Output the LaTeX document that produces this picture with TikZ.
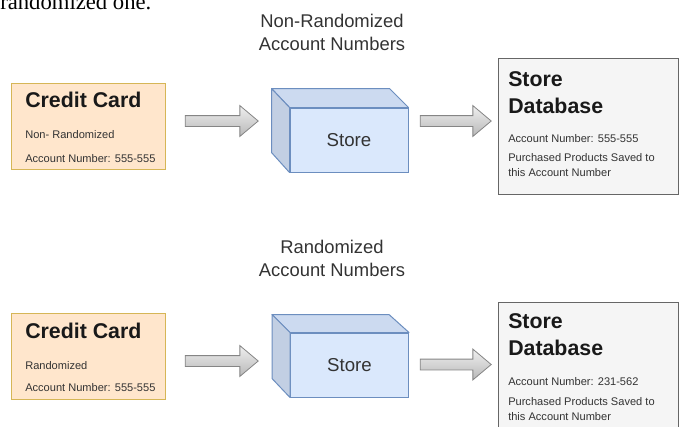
\documentclass[tikz,border=0pt]{standalone}
\usepackage{fontspec}
\setmainfont{Liberation Sans}
\newfontfamily\cutserif{Liberation Serif}
\usetikzlibrary{shapes.arrows,calc,positioning}
\definecolor{cardfill}{HTML}{FFE6CC}
\definecolor{carddraw}{HTML}{D6B656}
\definecolor{cubefront}{HTML}{DAE8FC}
\definecolor{cubetop}{HTML}{CCDAF0}
\definecolor{cubeside}{HTML}{C2CFE3}
\definecolor{cubedraw}{HTML}{6C8EBF}
\definecolor{dbfill}{HTML}{F5F5F5}
\definecolor{dbdraw}{HTML}{666666}
\definecolor{arrdraw}{HTML}{858585}

\begin{document}
\begin{tikzpicture}[
  x=0.75pt, y=-0.75pt,
  card/.style={draw=carddraw, fill=cardfill, line width=0.75pt, minimum width=154*0.75pt, minimum height=86*0.75pt, inner sep=0pt, anchor=north west},
  dbbox/.style={draw=dbdraw, fill=dbfill, line width=0.75pt, minimum width=180*0.75pt, minimum height=136*0.75pt, inner sep=0pt, anchor=north west},
  cubebox/.style={draw=cubedraw, fill=cubefront, line width=0.75pt, minimum width=118*0.75pt, minimum height=64*0.75pt, inner sep=0pt, font=\fontsize{14}{16}\selectfont, text=black!80},
  cubeface/.style={draw=cubedraw, line width=0.75pt, line join=round},
  blockarr/.style={single arrow, draw=arrdraw, top color=black!6, bottom color=black!28, line width=0.6pt, inner xsep=0pt, inner ysep=5*0.75pt, single arrow head extend=10*0.75pt, single arrow tip angle=80, minimum height=73*0.75pt},
  head/.style={anchor=base west, inner sep=0pt, align=left, font=\fontsize{16}{20}\selectfont\bfseries, text=black!90},
  small/.style={anchor=base west, inner sep=0pt, align=left, font=\fontsize{8.3}{11.25}\selectfont, text=black!80},
  title/.style={anchor=base, inner sep=0pt, align=center, font=\fontsize{13.8}{17.25}\selectfont, text=black!80},
]
  \useasboundingbox (0,0) rectangle (683,426);

  % Cut-off line of the text above
  \node[anchor=base west, inner sep=0pt, font=\cutserif\fontsize{17}{20}\selectfont] (cut) at (0,9) {randomized one.};

  % Non-randomized row (base of a multi-line node = its last line)
  \node[title] (t1) at (332,50) {Non-Randomized\\Account Numbers};
  \node[card] (c1) at (11,83) {};
  \node[head] (c1h) at ($(c1.north west)+(14,24)$) {Credit Card};
  \node[small] (c1a) at ($(c1.north west)+(14,55)$) {Non- Randomized};
  \node[small] (c1b) at ($(c1.north west)+(14,79)$) {Account Number: 555-555};

  \node[cubebox] (s1) at (349,140) {Store};
  \draw[cubeface, fill=cubetop] (s1.north west) -- ++(-18,-19) -- ++(118,0) -- (s1.north east) -- cycle;
  \draw[cubeface, fill=cubeside] (s1.north west) -- ++(-18,-19) -- ++(0,64) -- (s1.south west) -- cycle;

  \node[dbbox] (d1) at (498,58) {};
  \node[head] (d1h) at ($(d1.north west)+(10,55)$) {Store\\Database};
  \node[small] (d1a) at ($(d1.north west)+(10,84)$) {Account Number: 555-555};
  \node[small] (d1b) at ($(d1.north west)+(10,118)$) {Purchased Products Saved to\\this Account Number};

  \node[blockarr] (a1) at (218.5,121) {};
  \node[blockarr, minimum height=71*0.75pt] (a2) at (452.5,121) {};

  % Randomized row
  \node[title] (t2) at (332,276) {Randomized\\Account Numbers};
  \node[card] (c2) at (11,313) {};
  \node[head] (c2h) at ($(c2.north west)+(14,25)$) {Credit Card};
  \node[small] (c2a) at ($(c2.north west)+(14,56)$) {Randomized};
  \node[small] (c2b) at ($(c2.north west)+(14,78)$) {Account Number: 555-555};

  \node[cubebox] (s2) at (349.5,365) {Store};
  \draw[cubeface, fill=cubetop] (s2.north west) -- ++(-18,-18) -- ++(117,0) -- (s2.north east) -- cycle;
  \draw[cubeface, fill=cubeside] (s2.north west) -- ++(-18,-18) -- ++(0,64) -- (s2.south west) -- cycle;

  \node[dbbox] (d2) at (498,302) {};
  \node[head] (d2h) at ($(d2.north west)+(10,53)$) {Store\\Database};
  \node[small] (d2a) at ($(d2.north west)+(10,83)$) {Account Number: 231-562};
  \node[small] (d2b) at ($(d2.north west)+(10,118)$) {Purchased Products Saved to\\this Account Number};

  \node[blockarr] (a3) at (218.5,361) {};
  \node[blockarr, minimum height=71*0.75pt] (a4) at (452.5,364.5) {};
\end{tikzpicture}
\end{document}
